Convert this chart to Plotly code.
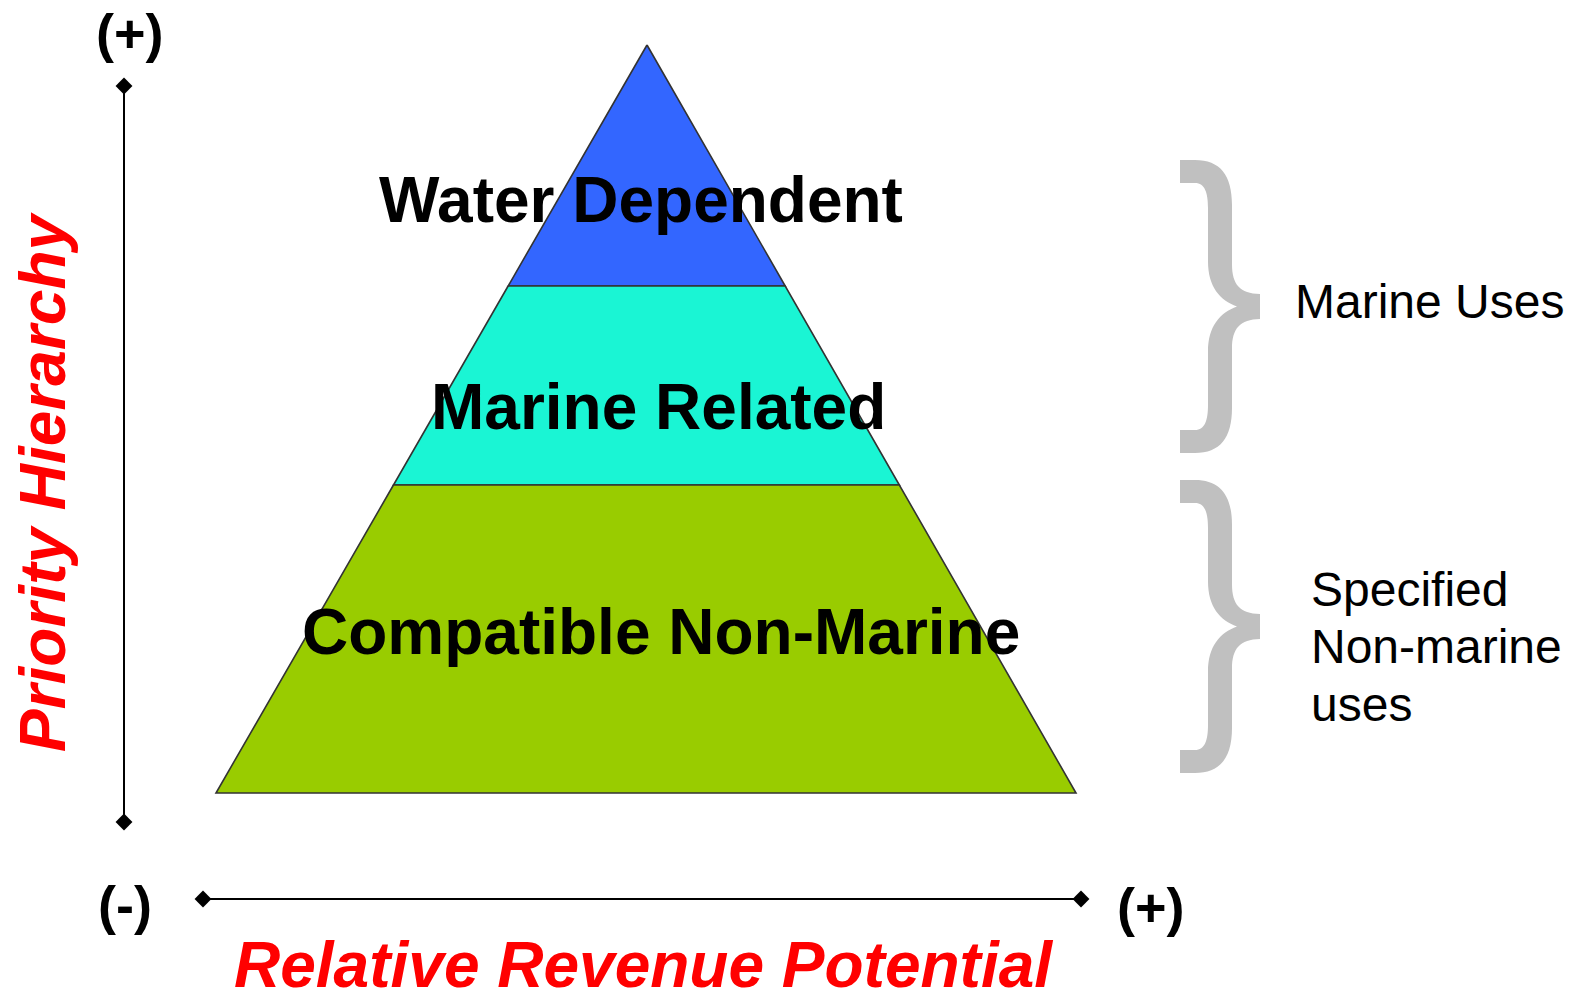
import plotly.graph_objects as go

# ---- data ----
tiers = ["Water Dependent", "Marine Related", "Compatible Non-Marine"]
tier_colors = ["#3366FF", "#1AF5D4", "#99CC00"]
tier_bounds = [45, 286, 485, 793]          # apex, boundaries, base (pixel rows)
apex_x = 647
base_left, base_right = 216, 1076
label_pos = [(641, 200), (658, 407), (661, 632)]

groups = ["Marine Uses", "Specified<br>Non-marine<br>uses"]
brace_spans = [(160, 453), (480, 773)]

y_axis_label = "Priority Hierarchy"
x_axis_label = "Relative Revenue Potential"

W, H = 1572, 995
FONT = "Arial, Liberation Sans, sans-serif"

fig = go.Figure()

def edge_x(y, side):
    t = (y - tier_bounds[0]) / (tier_bounds[-1] - tier_bounds[0])
    end = base_left if side == "L" else base_right
    return apex_x + (end - apex_x) * t

for i, (name, col) in enumerate(zip(tiers, tier_colors)):
    y0, y1 = tier_bounds[i], tier_bounds[i + 1]
    xs = [edge_x(y0, "L"), edge_x(y0, "R"), edge_x(y1, "R"), edge_x(y1, "L"), edge_x(y0, "L")]
    ys = [y0, y0, y1, y1, y0]
    fig.add_trace(go.Scatter(x=xs, y=ys, mode="lines", fill="toself", fillcolor=col,
                             line=dict(color="#333333", width=1.6), hoverinfo="skip",
                             showlegend=False))
    fig.add_annotation(x=label_pos[i][0], y=label_pos[i][1], text="<b>%s</b>" % name,
                       showarrow=False, xanchor="center", yanchor="middle",
                       font=dict(family=FONT, size=64, color="black"))

# axis lines with diamond ends
fig.add_trace(go.Scatter(x=[124, 124], y=[86, 822], mode="lines+markers",
                         line=dict(color="black", width=2),
                         marker=dict(symbol="diamond", size=13, color="black"),
                         hoverinfo="skip", showlegend=False))
fig.add_trace(go.Scatter(x=[203, 1081], y=[899, 899], mode="lines+markers",
                         line=dict(color="black", width=2),
                         marker=dict(symbol="diamond", size=13, color="black"),
                         hoverinfo="skip", showlegend=False))

for (x, y, t) in [(130, 33, "(+)"), (125, 905, "(-)"), (1151, 907, "(+)")]:
    fig.add_annotation(x=x, y=y, text="<b>%s</b>" % t, showarrow=False,
                       xanchor="center", yanchor="middle",
                       font=dict(family=FONT, size=54, color="black"))

fig.add_annotation(x=43, y=482, text="<b><i>%s</i></b>" % y_axis_label, textangle=-90,
                   showarrow=False, xanchor="center", yanchor="middle",
                   font=dict(family=FONT, size=64, color="#FF0000"))
fig.add_annotation(x=643, y=965, text="<b><i>%s</i></b>" % x_axis_label,
                   showarrow=False, xanchor="center", yanchor="middle",
                   font=dict(family=FONT, size=64, color="#FF0000"))

# braces
def brace_path(top, bot, x0=1180, stem_in=1208, stem_out=1232, tip=1260):
    mid = (top + bot) / 2
    th = 23
    return (f"M {x0},{top} L 1195,{top} "
            f"C 1220,{top} {stem_out},{top+15} {stem_out},{top+45} "
            f"L {stem_out},{mid-42} C {stem_out},{mid-22} 1240,{mid-13} {tip},{mid-12.5} "
            f"L {tip},{mid+12.5} C 1240,{mid+13} {stem_out},{mid+22} {stem_out},{mid+42} "
            f"L {stem_out},{bot-45} C {stem_out},{bot-15} 1220,{bot} 1195,{bot} "
            f"L {x0},{bot} L {x0},{bot-th} L 1195,{bot-th} "
            f"C 1205,{bot-th} {stem_in},{bot-th-10} {stem_in},{bot-th-25} "
            f"L {stem_in},{mid+45} C {stem_in},{mid+20} 1220,{mid+6} 1237,{mid} "
            f"C 1220,{mid-6} {stem_in},{mid-20} {stem_in},{mid-45} "
            f"L {stem_in},{top+th+25} C {stem_in},{top+th+10} 1205,{top+th} 1195,{top+th} "
            f"L {x0},{top+th} Z")

for (t, b) in brace_spans:
    fig.add_shape(type="path", path=brace_path(t, b), xref="x", yref="y",
                  fillcolor="#C0C0C0", line=dict(width=0))

fig.add_annotation(x=1293, y=301, text=groups[0], showarrow=False,
                   xanchor="left", yanchor="middle",
                   font=dict(family=FONT, size=48, color="black"))
for j, line in enumerate(groups[1].split("<br>")):
    fig.add_annotation(x=1309, y=589 + 57.5 * j, text=line, showarrow=False,
                       xanchor="left", yanchor="middle",
                       font=dict(family=FONT, size=48, color="black"))

fig.update_layout(width=W, height=H, margin=dict(l=0, r=0, t=0, b=0),
                  paper_bgcolor="white", plot_bgcolor="white",
                  xaxis=dict(range=[0, W], visible=False, fixedrange=True),
                  yaxis=dict(range=[H, 0], visible=False, fixedrange=True),
                  showlegend=False)

fig.write_html("out.html")
